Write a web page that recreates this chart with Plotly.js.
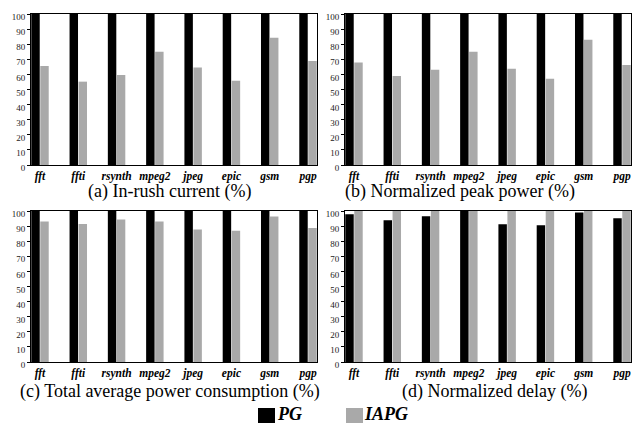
<!DOCTYPE html>
<html>
<head>
<meta charset="utf-8">
<script src="https://cdn.plot.ly/plotly-3.0.1.min.js"></script>
<style>html,body{margin:0;padding:0;background:#fff;}#chart{width:634px;height:425px;}</style>
</head>
<body>
<div id="chart"></div>
<script>
const categories = ["fft","ffti","rsynth","mpeg2","jpeg","epic","gsm","pgp"];
const seriesNames = ["PG","IAPG"];
// (a) In-rush current (%)
const inrushPG   = [100,100,100,100,100,100,100,100];
const inrushIAPG = [65.6,55.2,59.6,75,64.5,55.8,84.3,68.9];
// (b) Normalized peak power (%)
const peakPG   = [100,100,100,100,100,100,100,100];
const peakIAPG = [67.8,59,63.1,75,63.8,57.2,83,66.2];
// (c) Total average power consumption (%)
const avgPG   = [100,100,100,100,100,100,100,100];
const avgIAPG = [93,91.4,94.3,93,87.7,87,96.3,88.8];
// (d) Normalized delay (%)
const delayPG   = [97.8,93.8,96.5,100,91.2,90.5,99,95.2];
const delayIAPG = [100,100,100,100,100,100,100,100];
const captions = ["(a) In-rush current (%)","(b) Normalized peak power (%)","(c) Total average power consumption (%)","(d) Normalized delay (%)"];
const yTicks = [0,10,20,30,40,50,60,70,80,90,100];

const W = 634, H = 425;
const SERIF = "'Liberation Serif', 'Times New Roman', serif";
const colPG = "#000000", colIAPG = "#a9a9a9";
const panels = [
  {pg: inrushPG, ia: inrushIAPG, x:[31,317], y:[14,165], cap:[169,191]},
  {pg: peakPG,   ia: peakIAPG,   x:[345,631], y:[14,165], cap:[460,191]},
  {pg: avgPG,    ia: avgIAPG,    x:[31,317], y:[211,362], cap:[170,391]},
  {pg: delayPG,  ia: delayIAPG,  x:[345,631], y:[211,362], cap:[494,391]}
];

const traces = [];
const layout = {
  width: W, height: H,
  margin: {l:0, r:0, t:0, b:0},
  paper_bgcolor: "#fff", plot_bgcolor: "#fff",
  barmode: "group", bargap: 0.53, bargroupgap: 0.06,
  showlegend: false,
  font: {family: SERIF, color: "#000"},
  annotations: [], shapes: []
};

panels.forEach((p, i) => {
  const n = i === 0 ? "" : String(i + 1);
  const xa = "x" + n, ya = "y" + n;
  traces.push({type:"bar", x: categories, y: p.pg, name: seriesNames[0], xaxis: xa, yaxis: ya,
    marker: {color: colPG, line: {width: 0}}, hoverinfo: "x+y+name"});
  traces.push({type:"bar", x: categories, y: p.ia, name: seriesNames[1], xaxis: xa, yaxis: ya,
    marker: {color: colIAPG, line: {width: 0}}, hoverinfo: "x+y+name"});
  layout["xaxis" + n] = {
    domain: [p.x[0] / W, p.x[1] / W], anchor: ya,
    type: "category", range: [-0.235, 7.235],
    showline: true, mirror: true, linecolor: "#000", linewidth: 1,
    ticks: "", showgrid: false, zeroline: false, tickangle: 0,
    tickfont: {family: SERIF, size: 11.5, weight: "bold", style: "italic", color: "#000"},
    ticklabelstandoff: 0
  };
  layout["yaxis" + n] = {
    domain: [1 - p.y[1] / H, 1 - p.y[0] / H], anchor: xa,
    range: [0, 100], tickvals: yTicks, ticktext: yTicks.map(String),
    showline: true, mirror: true, linecolor: "#000", linewidth: 1,
    ticks: "outside", ticklen: 3, tickcolor: "#000", tickwidth: 1,
    showgrid: false, zeroline: false,
    tickfont: {family: SERIF, size: 9, color: "#222"},
    ticklabelshift: 3
  };
  layout.annotations.push({
    text: captions[i], xref: "paper", yref: "paper",
    x: p.cap[0] / W, y: 1 - p.cap[1] / H, xanchor: "center", yanchor: "middle",
    showarrow: false, font: {family: SERIF, size: 18, color: "#000"}
  });
});

// legend (swatches + labels)
const legendItems = [
  {name: seriesNames[0], color: colPG, sx: 258, tx: 276},
  {name: seriesNames[1], color: colIAPG, sx: 346, tx: 363}
];
legendItems.forEach(it => {
  layout.shapes.push({type: "rect", xref: "paper", yref: "paper",
    x0: it.sx / W, x1: (it.sx + 17) / W, y0: 1 - 423 / H, y1: 1 - 408 / H,
    fillcolor: it.color, line: {width: 0}});
  layout.annotations.push({text: it.name, xref: "paper", yref: "paper",
    x: it.tx / W, y: 0, xanchor: "left", yanchor: "bottom", showarrow: false,
    borderpad: 0,
    font: {family: SERIF, size: 18, weight: "bold", style: "italic", color: "#000"}});
});

Plotly.newPlot("chart", traces, layout, {displayModeBar: false, staticPlot: true});
</script>
</body>
</html>
